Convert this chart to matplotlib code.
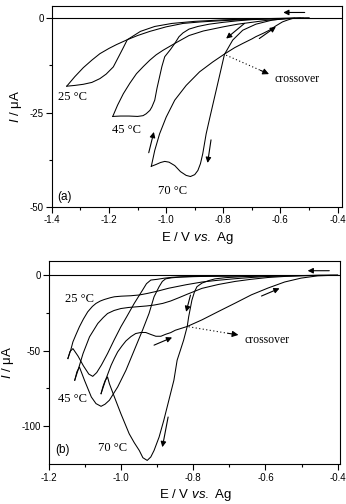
import matplotlib
matplotlib.use("Agg")
import matplotlib.pyplot as plt
from matplotlib.ticker import MultipleLocator, FormatStrFormatter, FixedLocator


plt.rcParams["font.family"] = ["Liberation Sans", "DejaVu Sans"]
plt.rcParams["axes.unicode_minus"] = False
plt.rcParams["mathtext.fontset"] = "custom"
plt.rcParams["mathtext.rm"] = "Liberation Sans"
plt.rcParams["mathtext.it"] = "Liberation Sans:italic"


# ---- panel (a): CV loops, potential in V vs Ag, current in uA ----
a25_fwd_E = [-0.50, -0.60, -0.70, -0.80, -0.90, -0.98, -1.04, -1.09, -1.136, -1.150,
             -1.165, -1.185, -1.210, -1.232, -1.260, -1.290, -1.320, -1.348]
a25_fwd_I = [0.0, -0.05, -0.2, -0.45, -0.85, -1.4, -2.2, -3.5, -5.7, -7.8,
             -10.0, -12.9, -14.8, -16.0, -17.0, -17.5, -17.8, -18.0]
a25_rev_E = [-1.348, -1.320, -1.290, -1.260, -1.232, -1.200, -1.174, -1.136, -1.100,
             -1.057, -1.000, -0.941, -0.88, -0.80, -0.70, -0.60, -0.52]
a25_rev_I = [-18.0, -15.5, -13.1, -11.1, -9.4, -8.0, -7.0, -5.7, -4.6,
             -3.5, -2.3, -1.4, -1.0, -0.65, -0.3, -0.1, 0.0]

a45_fwd_E = [-0.50, -0.60, -0.70, -0.75, -0.80, -0.85, -0.889, -0.92, -0.941, -0.955,
             -0.970, -0.985, -1.005, -1.015, -1.023, -1.032, -1.040, -1.050, -1.057,
             -1.070, -1.081, -1.100, -1.130, -1.160, -1.187]
a45_fwd_I = [0.0, -0.1, -0.4, -0.7, -1.1, -1.6, -2.2, -2.9, -3.9, -4.9,
             -6.7, -8.3, -10.2, -12.8, -15.5, -18.5, -21.7, -23.5, -24.4,
             -25.3, -25.8, -26.0, -25.9, -25.9, -26.0]
a45_rev_E = [-1.187, -1.170, -1.150, -1.127, -1.104, -1.080, -1.057, -1.035, -1.011,
             -0.970, -0.92, -0.87, -0.80, -0.75, -0.70, -0.65, -0.60, -0.55]
a45_rev_I = [-26.0, -23.0, -20.0, -17.2, -14.7, -12.8, -11.1, -9.7, -8.5,
             -6.7, -4.6, -3.4, -2.3, -1.6, -1.1, -0.6, -0.3, 0.0]

a70_fwd_E = [-0.50, -0.55, -0.581, -0.628, -0.686, -0.732, -0.767, -0.796, -0.810,
             -0.825, -0.837, -0.848, -0.860, -0.872, -0.880, -0.889, -0.900, -0.915,
             -0.930, -0.950, -0.970, -0.990, -1.005, -1.020, -1.035, -1.052]
a70_fwd_I = [0.0, -0.05, -0.1, -0.5, -1.6, -3.2, -5.8, -9.6, -14.2,
             -19.1, -23.0, -26.6, -30.6, -35.9, -38.5, -40.3, -41.4, -41.9,
             -41.6, -40.6, -39.0, -38.1, -37.9, -38.2, -38.7, -39.2]
a70_rev_E = [-1.052, -1.040, -1.023, -1.000, -0.970, -0.930, -0.883, -0.837, -0.796,
             -0.760, -0.732, -0.700, -0.686, -0.660, -0.639, -0.615, -0.593, -0.575,
             -0.558, -0.53]
a70_rev_I = [-39.2, -35.0, -30.6, -26.2, -21.7, -17.8, -14.2, -11.6, -9.5,
             -7.8, -6.7, -5.5, -4.9, -4.0, -3.2, -2.0, -1.0, -0.5,
             -0.1, 0.0]

# ---- panel (b) ----
b25_fwd_E = [-0.40, -0.50, -0.60, -0.70, -0.78, -0.83, -0.86, -0.882, -0.900, -0.918,
             -0.930, -0.941, -0.964, -0.985, -1.001, -1.020, -1.038, -1.055, -1.068,
             -1.079, -1.090, -1.105, -1.120, -1.134, -1.142, -1.148]
b25_fwd_I = [0.0, -0.1, -0.2, -0.4, -0.6, -0.9, -1.3, -1.9, -2.6, -3.1,
             -5.5, -9.8, -18.6, -27.5, -34.1, -43.0, -51.9, -59.5, -64.5,
             -67.0, -65.5, -60.0, -53.5, -48.6, -50.5, -55.2]
b25_rev_E = [-1.148, -1.140, -1.134, -1.125, -1.116, -1.105, -1.093, -1.080, -1.070,
             -1.058, -1.047, -1.030, -1.019, -1.000, -0.973, -0.950, -0.928, -0.900,
             -0.868, -0.82, -0.776, -0.73, -0.684, -0.64, -0.593, -0.54, -0.50,
             -0.45, -0.40]
b25_rev_I = [-55.2, -49.5, -44.1, -39.0, -34.1, -29.0, -24.2, -20.6, -18.6,
             -17.0, -16.0, -14.8, -14.2, -13.8, -13.5, -13.0, -12.0, -10.5,
             -8.5, -6.2, -4.4, -3.2, -2.2, -1.4, -0.7, -0.3, -0.1,
             0.0, 0.0]

b45_fwd_E = [-0.40, -0.50, -0.60, -0.70, -0.76, -0.81, -0.84, -0.86, -0.877, -0.886,
             -0.895, -0.909, -0.923, -0.941, -0.964, -0.987, -1.010, -1.033, -1.045,
             -1.056, -1.070, -1.083, -1.102, -1.116, -1.123, -1.129]
b45_fwd_I = [0.0, -0.1, -0.2, -0.4, -0.6, -0.9, -1.2, -1.6, -2.3, -4.0,
             -7.5, -14.2, -25.3, -36.4, -49.7, -63.0, -74.1, -82.9, -85.5,
             -86.9, -85.1, -80.7, -69.6, -60.8, -64.0, -69.6]
b45_rev_E = [-1.129, -1.120, -1.106, -1.088, -1.065, -1.050, -1.038, -1.020, -1.001,
             -0.980, -0.955, -0.930, -0.909, -0.885, -0.863, -0.840, -0.817, -0.776,
             -0.73, -0.684, -0.64, -0.593, -0.54, -0.50, -0.45, -0.40]
b45_rev_I = [-69.6, -63.0, -51.9, -40.8, -31.9, -28.0, -25.3, -23.3, -22.0,
             -21.3, -20.8, -20.3, -19.7, -18.6, -17.0, -14.8, -12.5, -8.6,
             -6.0, -4.0, -2.6, -1.4, -0.6, -0.2, 0.0, 0.0]

b70_fwd_E = [-0.40, -0.50, -0.60, -0.66, -0.71, -0.74, -0.758, -0.776, -0.790, -0.797,
             -0.804, -0.813, -0.817, -0.827, -0.836, -0.845, -0.854, -0.868, -0.882,
             -0.895, -0.909, -0.918, -0.928, -0.940, -0.950, -0.964, -0.978, -1.001,
             -1.019, -1.033, -1.038, -1.045, -1.051, -1.056]
b70_fwd_I = [0.0, -0.1, -0.4, -0.8, -1.5, -2.3, -3.5, -5.1, -7.5, -11.0,
             -16.4, -27.5, -33.9, -43.0, -49.7, -56.3, -69.6, -82.9, -96.2,
             -107.3, -116.2, -120.5, -122.8, -121.0, -116.2, -111.0, -105.1, -91.8,
             -80.7, -71.8, -67.4, -70.0, -74.0, -78.5]
b70_rev_E = [-1.056, -1.049, -1.042, -1.035, -1.028, -1.019, -1.010, -0.998, -0.987,
             -0.973, -0.960, -0.946, -0.932, -0.918, -0.904, -0.890, -0.877, -0.863,
             -0.850, -0.817, -0.776, -0.730, -0.684, -0.639, -0.593, -0.547, -0.501,
             -0.455, -0.42, -0.40]
b70_rev_I = [-78.5, -73.5, -68.5, -64.0, -59.6, -55.0, -50.8, -46.8, -43.5,
             -40.6, -38.6, -37.9, -37.9, -39.2, -40.4, -40.4, -39.1, -38.0,
             -36.4, -33.9, -29.5, -23.9, -18.4, -12.9, -8.4, -4.4, -1.8,
             -0.3, 0.0, 0.0]

temp_labels = ["25 \u00b0C", "45 \u00b0C", "70 \u00b0C"]

LW = 0.75
SERIF = "Liberation Serif"


def arrow(ax, start, end, scale=8):
    ax.annotate("", xy=end, xytext=start,
                arrowprops=dict(arrowstyle="-|>", color="k", lw=0.8,
                                mutation_scale=scale, shrinkA=0, shrinkB=0))


def crossover(ax, start, end, head_from, text_xy):
    ax.plot([start[0], head_from[0]], [start[1], head_from[1]],
            ls=(0, (1, 2.2)), color="k", lw=0.8)
    arrow(ax, head_from, end, scale=9)
    ax.text(text_xy[0], text_xy[1], "crossover", family=SERIF, fontsize=8.5,
            ha="left", va="center")


def style_axes(ax, xmajor, ymajor, yminor, xlim, ylim):
    ax.set_xlim(*xlim)
    ax.set_ylim(*ylim)
    ax.xaxis.set_major_locator(MultipleLocator(xmajor))
    ax.xaxis.set_minor_locator(MultipleLocator(xmajor / 2))
    ax.xaxis.set_major_formatter(FormatStrFormatter("%.1f"))
    ax.yaxis.set_major_locator(FixedLocator(ymajor))
    ax.yaxis.set_minor_locator(FixedLocator(yminor))
    ax.yaxis.set_major_formatter(FormatStrFormatter("%g"))
    ax.tick_params(which="major", direction="out", length=4, width=0.8, labelsize=7, pad=2)
    ax.tick_params(which="minor", direction="out", length=2.5, width=0.8)
    for s in ax.spines.values():
        s.set_linewidth(0.8)
    ax.axhline(0, color="k", lw=0.8)
    ax.set_xlabel(r"E / V $\mathit{vs.}$ Ag", fontsize=9.5, labelpad=3)
    ax.set_ylabel(r"$\mathit{I}$ / $\mathrm{\mu}$A", fontsize=9.5, labelpad=4)


fig = plt.figure(figsize=(3.46, 5.04), dpi=100)
ax1 = fig.add_axes([0.150, 0.589, 0.838, 0.399])
ax2 = fig.add_axes([0.142, 0.079, 0.842, 0.403])

# panel (a)
for E, I in [(a25_fwd_E, a25_fwd_I), (a25_rev_E, a25_rev_I),
             (a45_fwd_E, a45_fwd_I), (a45_rev_E, a45_rev_I),
             (a70_fwd_E, a70_fwd_I), (a70_rev_E, a70_rev_I)]:
    ax1.plot(E, I, color="k", lw=LW)
style_axes(ax1, 0.2, [0, -25, -50], [-12.5, -37.5], (-1.4, -0.385), (-50, 3.2))

arrow(ax1, (-0.515, 1.5), (-0.59, 1.5))
arrow(ax1, (-0.726, -1.4), (-0.79, -5.4))
arrow(ax1, (-0.674, -5.4), (-0.616, -2.3))
arrow(ax1, (-1.061, -35.6), (-1.043, -30.1))
arrow(ax1, (-0.843, -32.2), (-0.855, -38.3))
crossover(ax1, (-0.790, -9.8), (-0.64, -14.8), (-0.67, -13.8), (-0.622, -16.0))

ax1.text(-1.377, -20.8, temp_labels[0], family=SERIF, fontsize=9, va="center")
ax1.text(-1.191, -29.5, temp_labels[1], family=SERIF, fontsize=9, va="center")
ax1.text(-1.028, -45.6, temp_labels[2], family=SERIF, fontsize=9, va="center")
ax1.text(-1.383, -47.3, "(a)", fontsize=8.5, va="center")

# panel (b)
for E, I in [(b25_fwd_E, b25_fwd_I), (b25_rev_E, b25_rev_I),
             (b45_fwd_E, b45_fwd_I), (b45_rev_E, b45_rev_I),
             (b70_fwd_E, b70_fwd_I), (b70_rev_E, b70_rev_I)]:
    ax2.plot(E, I, color="k", lw=LW)
style_axes(ax2, 0.2, [0, -50, -100], [-25, -75], (-1.2, -0.392), (-125.3, 9.5))

arrow(ax2, (-0.423, 3.1), (-0.483, 3.1))
arrow(ax2, (-0.808, -13.1), (-0.820, -24.2))
arrow(ax2, (-0.611, -13.7), (-0.561, -8.6))
arrow(ax2, (-0.909, -46.3), (-0.859, -41.2))
arrow(ax2, (-0.870, -94.0), (-0.886, -114.0))
crossover(ax2, (-0.813, -34.1), (-0.675, -39.5), (-0.705, -38.4), (-0.659, -42.6))

ax2.text(-1.157, -16.0, temp_labels[0], family=SERIF, fontsize=9, va="center")
ax2.text(-1.175, -81.8, temp_labels[1], family=SERIF, fontsize=9, va="center")
ax2.text(-1.065, -114.6, temp_labels[2], family=SERIF, fontsize=9, va="center")
ax2.text(-1.184, -116.2, "(b)", fontsize=8.5, va="center")

fig.savefig("out.png", dpi=100)
